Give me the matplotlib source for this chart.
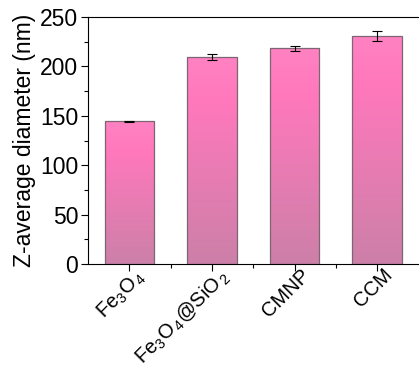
import numpy as np
import matplotlib
matplotlib.use("Agg")
import matplotlib.pyplot as plt
from matplotlib.colors import LinearSegmentedColormap
from matplotlib.ticker import MultipleLocator
import matplotlib.transforms as mtransforms

plt.rcParams['font.family'] = ['Liberation Sans', 'DejaVu Sans']
plt.rcParams['mathtext.fontset'] = 'custom'
plt.rcParams['mathtext.rm'] = 'Liberation Sans'
plt.rcParams['mathtext.it'] = 'Liberation Sans'

samples = [r"Fe$_3$O$_{\,4}$", r"Fe$_3$O$_{\,4}$@SiO$_{\,2}$", "CMNP", "CCM"]
diam = [144.5, 209.6, 218.3, 230.8]
err = [0.6, 2.7, 2.7, 5.2]

fig = plt.figure(figsize=(4.19, 3.70), dpi=100)
ax = fig.add_axes([88/419, 1 - 264/370, (421 - 88)/419, (264 - 17)/370])

x = np.arange(len(samples))
bars = ax.bar(x, diam, width=0.6, color="none", edgecolor="#7d6673", lw=0.9, zorder=3)
ax.errorbar(x, diam, yerr=err, fmt="none", ecolor="black", elinewidth=0.8, capsize=3.5, capthick=0.8, zorder=4)

cmap = LinearSegmentedColormap.from_list(
    "pk", [(0, "#cc80a8"), (0.78, "#ff78bc"), (1, "#ff82c2")])
grad = np.linspace(0, 1, 256).reshape(-1, 1)
for b in bars:
    x0, w, h = b.get_x(), b.get_width(), b.get_height()
    im = ax.imshow(grad, cmap=cmap, origin="lower", aspect="auto",
                   extent=[x0, x0 + w, 0, h], zorder=2, vmin=0, vmax=1)
    im.set_clip_path(b)

ax.set_xlim(-0.5, 3.53)
ax.set_ylim(0, 250)
ax.yaxis.set_major_locator(MultipleLocator(50))
ax.yaxis.set_minor_locator(MultipleLocator(25))
ax.set_xticks(x)
ax.set_xticks(x[:-1] + 0.5, minor=True)
ax.set_xticklabels([])

# rotated category labels, nudged right like the original
shift = mtransforms.ScaledTranslation(6/100, -1.5/100, fig.dpi_scale_trans)
for xi, s in zip(x, samples):
    ax.text(xi, 0, s, rotation=45, ha="right", va="top", rotation_mode="anchor",
            fontsize=14.5, transform=ax.get_xaxis_transform() + shift)

ax.tick_params(axis="y", which="major", labelsize=16.5, length=5, width=0.8, direction="out", pad=2)
ax.tick_params(axis="x", which="major", length=5, width=0.8, direction="out")
ax.tick_params(axis="both", which="minor", length=3, width=0.8, direction="out")
ax.set_ylabel("Z-average diameter (nm)", fontsize=16.5, labelpad=3)
for s in ax.spines.values():
    s.set_linewidth(0.8)
ax.spines["right"].set_visible(False)

fig.savefig("out.png", dpi=100)
